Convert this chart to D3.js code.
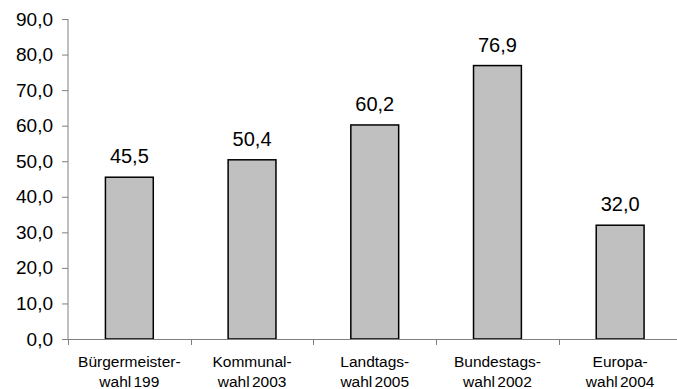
<!DOCTYPE html>
<html><head><meta charset="utf-8">
<script src="https://cdn.jsdelivr.net/npm/d3@7"></script>
<style>
html,body{margin:0;padding:0;background:#fff;}
svg{display:block;}
text{font-family:"Liberation Sans",Arial,sans-serif;fill:#000;}
</style></head>
<body>
<script>
const categories = [["Bürgermeister-","wahl 199"],["Kommunal-","wahl 2003"],["Landtags-","wahl 2005"],["Bundestags-","wahl 2002"],["Europa-","wahl 2004"]];
const values = [45.5, 50.4, 60.2, 76.9, 32.0];
const yTicks = [0,10,20,30,40,50,60,70,80,90];

const W = 677, H = 389;
const svg = d3.select("body").append("svg").attr("width", W).attr("height", H);
const x0 = 68, x1 = 681.5, yTop = 19, yBot = 339;
const fmt = v => v.toFixed(1).replace(".", ",");

const x = d3.scaleBand().domain(d3.range(categories.length)).range([x0, x1]).paddingInner(0.61).paddingOuter(0.305);
const y = d3.scaleLinear().domain([0, 90]).range([yBot, yTop]);

// bars
svg.selectAll("rect.bar").data(values).join("rect")
  .attr("class","bar")
  .attr("x",(d,i)=>x(i)).attr("width",x.bandwidth())
  .attr("y",d=>y(d)).attr("height",d=>y(0)-y(d))
  .attr("fill","#c0c0c0").attr("stroke","#000").attr("stroke-width",1.5);

// value labels
svg.selectAll("text.val").data(values).join("text")
  .attr("class","val")
  .attr("x",(d,i)=>x(i)+x.bandwidth()/2)
  .attr("y",d=>y(d)-14)
  .attr("text-anchor","middle")
  .style("font-size","20px")
  .text(fmt);

// y axis
const yAxis = d3.axisLeft(y).tickValues(yTicks).tickFormat(fmt).tickSize(6).tickPadding(9);
const gy = svg.append("g").attr("transform",`translate(${x0},0)`).call(yAxis);
gy.select(".domain").attr("stroke","#808080").attr("d",`M-0.5,${yTop}V${yBot}`).attr("transform","translate(0.5,0)");
gy.selectAll(".tick line").attr("stroke","#808080");
gy.selectAll(".tick text").style("font-size","19px").style("font-family","'Liberation Sans',Arial,sans-serif").attr("fill","#000");

// x axis
const step = x.step();
const bounds = d3.range(categories.length).map(i => x0 + i*step);
svg.append("line").attr("x1",x0).attr("x2",x1).attr("y1",yBot+0.5).attr("y2",yBot+0.5).attr("stroke","#808080");
svg.selectAll("line.xt").data(bounds).join("line").attr("class","xt")
  .attr("x1",d=>Math.round(d)+0.5).attr("x2",d=>Math.round(d)+0.5)
  .attr("y1",yBot).attr("y2",yBot+6).attr("stroke","#808080");

// category labels
const cl = svg.selectAll("text.cat").data(categories).join("text")
  .attr("class","cat")
  .attr("text-anchor","middle")
  .style("font-size","15.5px")
  .style("word-spacing","-2px");
cl.each(function(d,i){
  const t = d3.select(this);
  const cx = x(i)+x.bandwidth()/2;
  d.forEach((line,j)=>{
    t.append("tspan").attr("x",cx).attr("y",367+j*20).text(line);
  });
});
</script>
</body></html>
